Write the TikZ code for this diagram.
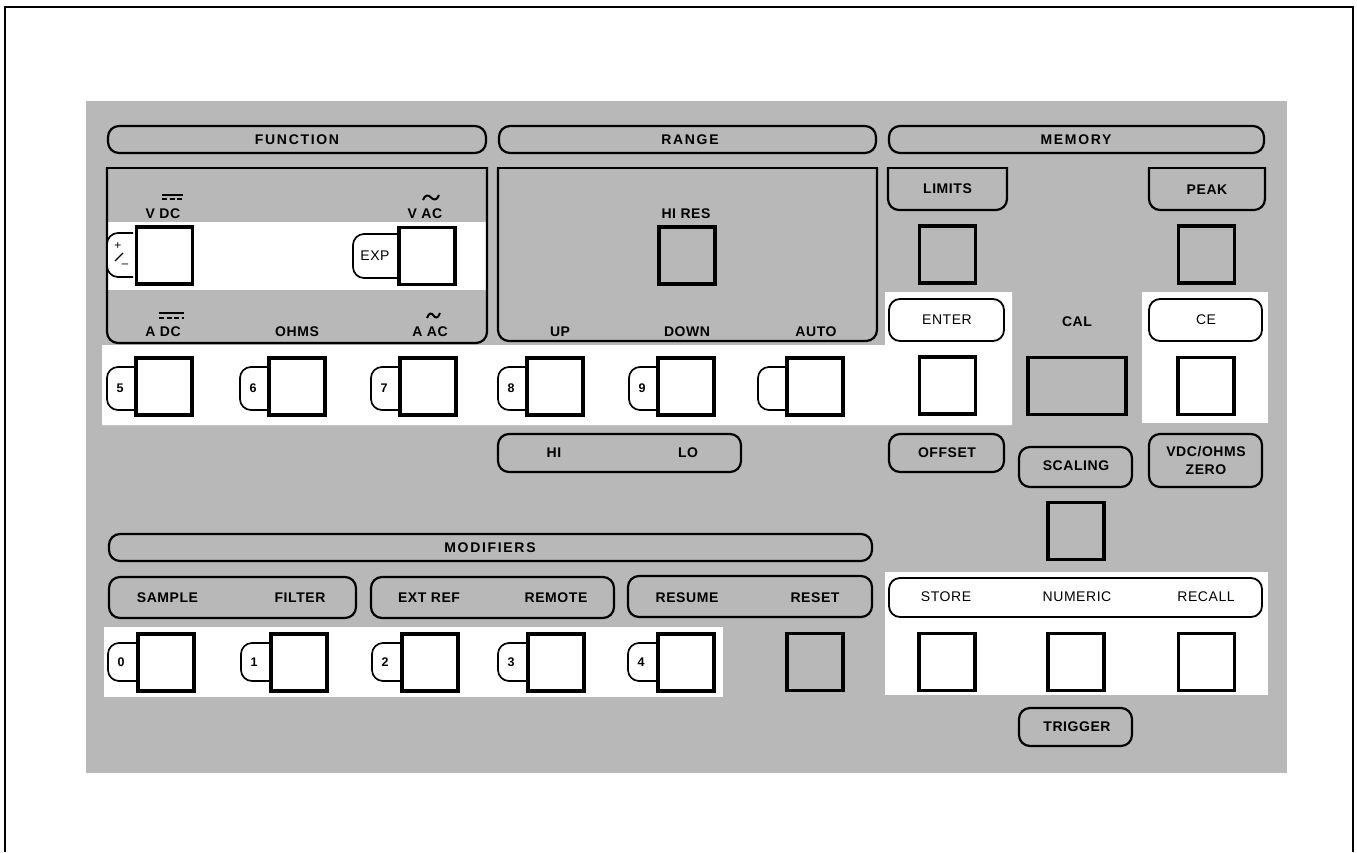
\documentclass[tikz,border=0pt]{standalone}
\usepackage{fontspec}
\newfontfamily\panelfont[LetterSpace=4]{Liberation Sans}
\newfontfamily\headfont[LetterSpace=12]{Liberation Sans}
\definecolor{panel}{gray}{0.72}

\tikzset{
  gtext/.style={font=\panelfont\bfseries\fontsize{14}{16}\selectfont, inner sep=0pt},
  wtext/.style={font=\panelfont\fontsize{14}{16}\selectfont, inner sep=0pt},
  htext/.style={font=\headfont\bfseries\fontsize{14}{16}\selectfont, inner sep=0pt},
  numtext/.style={font=\panelfont\bfseries\fontsize{12.5}{14}\selectfont, inner sep=0pt},
  gbar/.style={draw, line width=2.2pt, rounded corners=11pt, inner sep=0pt},
  wbar/.style={gbar, fill=white, line width=1.8pt},
  wkey/.style={draw, fill=white, line width=3.4pt, minimum width=56pt, minimum height=57pt, inner sep=0pt},
  gkey/.style={wkey, fill=panel, line width=3.8pt},
  tabline/.style={draw, fill=white, line width=1.7pt, rounded corners=11pt},
  boxline/.style={line width=2.2pt},
  symline/.style={line width=2pt},
}

\begin{document}
\begin{tikzpicture}[x=1pt,y=-1pt]
\useasboundingbox (0,0) rectangle (1357,852);
\fill[white] (0,0) rectangle (1357,852);
\draw[line width=2.5pt] (5,852) -- (5,7) -- (1353,7) -- (1353,852);

% panel and white areas
\fill[panel] (86,101) rectangle (1287,773);
\fill[white] (102,345) -- (885,345) -- (885,292) -- (1012,292) -- (1012,425) -- (102,425) -- cycle;
\fill[white] (1142,292) rectangle (1268,423);
\fill[white] (104,627) rectangle (723,697);
\fill[white] (885,572) rectangle (1268,695);
\fill[white] (107,222) rectangle (487,290);

% header bars
\node[gbar, minimum width=378pt, minimum height=27pt] (function) at (297,139.5) {};
\node[htext] (functiontxt) at (297,140) {FUNCTION};
\node[gbar, minimum width=377pt, minimum height=27pt] (range) at (687.5,139.5) {};
\node[htext] (rangetxt) at (690,140) {RANGE};
\node[gbar, minimum width=375pt, minimum height=27pt] (memory) at (1076.5,139.5) {};
\node[htext] (memorytxt) at (1076,140) {MEMORY};
\node[gbar, minimum width=763pt, minimum height=27pt] (modifiers) at (490.5,547.5) {};
\node[htext] (modifierstxt) at (490,548) {MODIFIERS};

% function and range boxes
\draw[boxline] (107,168) -- (487,168);
\draw[boxline, rounded corners=11pt] (107,167) -- (107,343) -- (487,343) -- (487,167);
\draw[boxline] (498,168) -- (877,168);
\draw[boxline, rounded corners=11pt] (498,167) -- (498,341) -- (877,341) -- (877,167);

% limits and peak
\draw[boxline] (888,168) -- (1007,168);
\draw[boxline, rounded corners=11pt] (888,167) -- (888,210) -- (1007,210) -- (1007,167);
\node[gtext] (limits) at (947.5,189) {LIMITS};
\draw[boxline] (1149,168) -- (1265,168);
\draw[boxline, rounded corners=11pt] (1149,167) -- (1149,210) -- (1265,210) -- (1265,167);
\node[gtext] (peak) at (1207,190) {PEAK};

% function labels
\draw[symline] (162,194.5) -- (183,194.5);
\draw[symline, dash pattern=on 5pt off 2.5pt] (162,199) -- (183,199);
\node[gtext] (vdc) at (163,214) {V DC};
\draw[symline] (423,200) .. controls (425,194) and (429,195) .. (431,197.5) .. controls (433,200) and (437,201) .. (439,195);
\node[gtext] (vac) at (425,214) {V AC};
\draw[symline] (159,313) -- (184,313);
\draw[symline, dash pattern=on 5pt off 2.5pt] (159,317.5) -- (184,317.5);
\node[gtext] (adc) at (163,332) {A DC};
\node[gtext] (ohms) at (297,332) {OHMS};
\draw[symline] (427,318) .. controls (429,312) and (432,313) .. (433.5,315.5) .. controls (435,318) and (438,319) .. (440,313);
\node[gtext] (aac) at (430,332) {A AC};

% sign and exp keys
\draw[tabline] (133,233) -- (107,233) -- (107,277) -- (133,277);
\node[wkey] (sign) at (164.5,255.5) {};
\node[wtext, font=\panelfont\fontsize{12}{13}\selectfont] (plus) at (118,246) {+};
\draw[line width=1.2pt] (115,261) -- (123,253);
\node[wtext, font=\panelfont\fontsize{12}{13}\selectfont] (minus) at (125,266) {\textendash};
\draw[tabline] (397,234) -- (353,234) -- (353,278) -- (397,278);
\node[wkey] (exp) at (427,256) {};
\node[wtext] (exptxt) at (375,256) {EXP};

% range labels
\node[gtext] (hires) at (686,214) {HI RES};
\node[gkey] (hireskey) at (687,255.5) {};
\node[gtext] (up) at (560,332) {UP};
\node[gtext] (down) at (687,332) {DOWN};
\node[gtext] (auto) at (816,332) {AUTO};

% upper numbered keys
\foreach \cx/\num [count=\i] in {164/5,297/6,428/7,555/8,686/9,815/{}}
{
	\draw[tabline] (\cx-30,367) -- (\cx-57,367) -- (\cx-57,410) -- (\cx-30,410);
	\node[wkey] (upkey\i) at (\cx,386.5) {};
	\node[numtext] (upnum\i) at (\cx-44,388.5) {\num};
}

% memory keys
\node[gkey] (limitskey) at (947.5,254.5) {};
\node[gkey] (peakkey) at (1206.5,254.5) {};
\node[wbar, minimum width=115pt, minimum height=42pt] (enter) at (946.5,320) {};
\node[wtext] (entertxt) at (947,320) {ENTER};
\node[wkey] (enterkey) at (947.5,385.5) {};
\node[gtext] (cal) at (1077,322) {CAL};
\node[gkey, minimum width=98pt] (calkey) at (1077,386) {};
\node[wbar, minimum width=113pt, minimum height=42pt] (ce) at (1205.5,320) {};
\node[wtext] (cetxt) at (1206,320) {CE};
\node[wkey] (cekey) at (1206,386) {};

% middle row
\node[gbar, minimum width=243pt, minimum height=38pt] (hilo) at (619.5,453) {};
\node[gtext] (hi) at (554,453) {HI};
\node[gtext] (lo) at (688,453) {LO};
\node[gbar, minimum width=115pt, minimum height=38pt] (offset) at (946.5,453) {};
\node[gtext] (offsettxt) at (947,453) {OFFSET};
\node[gbar, minimum width=113pt, minimum height=40pt] (scaling) at (1075.5,467) {};
\node[gtext] (scalingtxt) at (1076,466) {SCALING};
\node[gbar, minimum width=113pt, minimum height=53pt] (zero) at (1205.5,460.5) {};
\node[gtext] (zerotxt1) at (1206,452) {VDC/OHMS};
\node[gtext] (zerotxt2) at (1206,470) {ZERO};
\node[gkey] (scalingkey) at (1076,531) {};

% modifiers
\node[gbar, minimum width=247pt, minimum height=41pt] (samplebar) at (232.5,597.5) {};
\node[gtext] (sample) at (167.5,598) {SAMPLE};
\node[gtext] (filter) at (300,598) {FILTER};
\node[gbar, minimum width=243pt, minimum height=41pt] (extbar) at (492.5,597.5) {};
\node[gtext] (extref) at (429,598) {EXT REF};
\node[gtext] (remote) at (556,598) {REMOTE};
\node[gbar, minimum width=244pt, minimum height=41pt] (resumebar) at (750,596.5) {};
\node[gtext] (resume) at (687,598) {RESUME};
\node[gtext] (reset) at (815,598) {RESET};

% lower numbered keys
\foreach \cx/\num [count=\i] in {166/0,299/1,430/2,556/3,686/4}
{
	\draw[tabline] (\cx-30,643) -- (\cx-58,643) -- (\cx-58,681) -- (\cx-30,681);
	\node[wkey] (lowkey\i) at (\cx,662.5) {};
	\node[numtext] (lownum\i) at (\cx-45,662.5) {\num};
}
\node[gkey] (resetkey) at (815,662) {};

% store / numeric / recall
\node[wbar, minimum width=373pt, minimum height=39pt] (storebar) at (1075.5,597.5) {};
\node[wtext] (store) at (946,597) {STORE};
\node[wtext] (numeric) at (1077,597) {NUMERIC};
\node[wtext] (recall) at (1206,597) {RECALL};
\node[wkey] (storekey) at (947,662) {};
\node[wkey] (numerickey) at (1076,662) {};
\node[wkey] (recallkey) at (1206.5,662) {};
\node[gbar, minimum width=113pt, minimum height=38pt] (trigger) at (1075.5,727) {};
\node[gtext] (triggertxt) at (1077,727) {TRIGGER};

\end{tikzpicture}
\end{document}
